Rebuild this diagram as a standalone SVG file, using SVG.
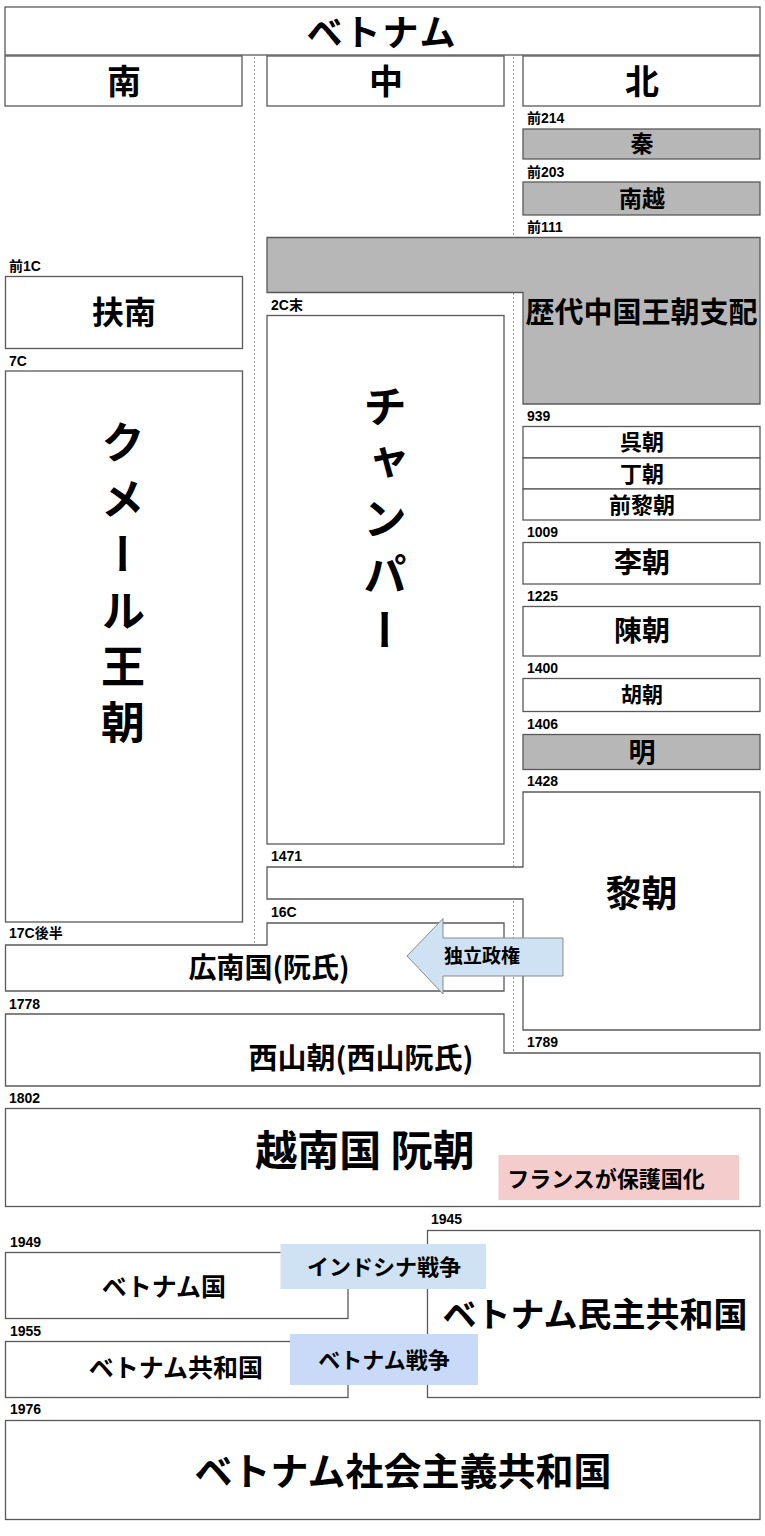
<svg xmlns="http://www.w3.org/2000/svg" width="765" height="1536" viewBox="0 0 765 1536">
<style>
.bx{fill:#ffffff;stroke:#595959;stroke-width:1.3}
.gr{fill:#b7b7b7;stroke:#595959;stroke-width:1.3}
.t{font-family:"Noto Sans CJK JP","Noto Sans CJK SC",sans-serif;font-weight:bold;fill:#000;text-anchor:middle;dominant-baseline:central}
.lb{font-family:"Liberation Sans","Noto Sans CJK JP",sans-serif;font-weight:bold;font-size:14px;fill:#000}
.vt{writing-mode:vertical-rl;font-family:"Noto Sans CJK JP",sans-serif;font-weight:bold;font-size:44px;fill:#000;text-anchor:middle;letter-spacing:12px}
.dv{stroke:#9a9a9a;stroke-width:1;stroke-dasharray:2 2;fill:none}
</style>
<rect width="765" height="1536" fill="#ffffff"/>
<g id="dividers">
<line class="dv" x1="254.5" y1="57" x2="254.5" y2="943"/>
<line class="dv" x1="513.5" y1="57" x2="513.5" y2="1052"/>
</g>
<g id="title"><rect class="bx" x="5" y="7" width="755" height="48"/><text class="t" x="382" y="29.5" font-size="36" letter-spacing="2">ベトナム</text></g>
<g id="col-south"><rect class="bx" x="5" y="56" width="237" height="50"/><text class="t" x="124" y="79" font-size="34">南</text></g>
<g id="col-center"><rect class="bx" x="267" y="56" width="237" height="50"/><text class="t" x="386" y="79" font-size="34">中</text></g>
<g id="col-north"><rect class="bx" x="523" y="56" width="237" height="50"/><text class="t" x="642" y="79" font-size="34">北</text></g>

<g id="qin"><text class="lb" x="527" y="123">前214</text><rect class="gr" x="523" y="129" width="237" height="30"/><text class="t" x="642" y="142" font-size="23">秦</text></g>
<g id="nanyue"><text class="lb" x="527" y="177">前203</text><rect class="gr" x="523" y="182" width="237" height="33"/><text class="t" x="642" y="196.5" font-size="23">南越</text></g>
<g id="chinese-rule"><text class="lb" x="527" y="232">前111</text><path class="gr" d="M267,237.5 H760 V404 H523 V292.5 H267 Z"/><text class="t" x="641.5" y="310" font-size="29">歴代中国王朝支配</text></g>

<g id="funan"><text class="lb" x="9" y="271">前1C</text><rect class="bx" x="5.5" y="276.5" width="237" height="72"/><text class="t" x="124" y="310" font-size="32">扶南</text></g>
<g id="khmer"><text class="lb" x="9" y="366">7C</text><rect class="bx" x="5.5" y="371" width="237" height="551"/><text class="vt" x="123" y="588">クメール王朝</text></g>
<g id="champa"><text class="lb" x="271" y="310">2C末</text><rect class="bx" x="267" y="315.5" width="237" height="528.5"/><text class="vt" x="385" y="524">チャンパー</text></g>

<g id="ngo"><text class="lb" x="527" y="421">939</text><rect class="bx" x="523" y="426.5" width="237" height="31.5"/><text class="t" x="642" y="440" font-size="22">呉朝</text></g>
<g id="dinh"><rect class="bx" x="523" y="458" width="237" height="31"/><text class="t" x="642" y="471.5" font-size="22">丁朝</text></g>
<g id="early-le"><rect class="bx" x="523" y="489" width="237" height="31"/><text class="t" x="642" y="502.5" font-size="22">前黎朝</text></g>
<g id="ly"><text class="lb" x="527" y="537">1009</text><rect class="bx" x="523" y="542.5" width="237" height="41.5"/><text class="t" x="642" y="561" font-size="28">李朝</text></g>
<g id="tran"><text class="lb" x="527" y="601">1225</text><rect class="bx" x="523" y="606.5" width="237" height="49.5"/><text class="t" x="642" y="629" font-size="28">陳朝</text></g>
<g id="ho"><text class="lb" x="527" y="673">1400</text><rect class="bx" x="523" y="678.5" width="237" height="33"/><text class="t" x="642" y="693" font-size="21">胡朝</text></g>
<g id="ming"><text class="lb" x="527" y="728.5">1406</text><rect class="gr" x="523" y="734.5" width="237" height="35"/><text class="t" x="642" y="750" font-size="27">明</text></g>
<g id="later-le"><text class="lb" x="527" y="786">1428</text><text class="lb" x="271" y="861">1471</text><path class="bx" d="M523,792 H760 V1030 H523 V899 H267 V867 H523 Z"/><text class="t" x="641.5" y="891" font-size="36">黎朝</text><text class="lb" x="527" y="1047">1789</text></g>

<g id="quang-nam"><text class="lb" x="271" y="917">16C</text><text class="lb" x="9" y="938">17C後半</text><path class="bx" d="M5.5,945 H267 V923 H504 V991 H5.5 Z"/><text class="t" x="269" y="966" font-size="28">広南国(阮氏)</text></g>
<g id="connectors"><g id="independence"><path d="M407,956 L443,918.5 V938 H563 V976 H443 V994 Z" fill="#cfe2f3" stroke="#8a8a8a" stroke-width="1"/><text class="t" x="482" y="954.5" font-size="19">独立政権</text></g></g>

<g id="tay-son"><text class="lb" x="9" y="1008.5">1778</text><path class="bx" d="M5.5,1014 H504 V1053 H760 V1086 H5.5 Z"/><text class="t" x="361" y="1056" font-size="29">西山朝(西山阮氏)</text></g>
<g id="nguyen"><text class="lb" x="9" y="1103">1802</text><rect class="bx" x="5.5" y="1108.5" width="754.5" height="98"/><text class="t" x="365" y="1147" font-size="42">越南国 阮朝</text></g>
<g id="french"><rect x="498.5" y="1155" width="240.5" height="45" fill="#f4cccc"/><text class="t" x="606" y="1176.5" font-size="22">フランスが保護国化</text></g>

<g id="state-of-vietnam"><text class="lb" x="10" y="1247">1949</text><rect class="bx" x="5.5" y="1252.5" width="342.5" height="66"/><text class="t" x="164" y="1285" font-size="25">ベトナム国</text></g>
<g id="drv"><text class="lb" x="431" y="1223.5">1945</text><rect class="bx" x="427.5" y="1230.5" width="332.5" height="167"/><text class="t" x="595" y="1312" font-size="34">ベトナム民主共和国</text></g>
<g id="rvn"><text class="lb" x="10" y="1335.5">1955</text><rect class="bx" x="5.5" y="1341.5" width="342.5" height="56"/><text class="t" x="176" y="1366" font-size="25">ベトナム共和国</text></g>
<g id="indochina-war"><rect x="280.5" y="1244" width="205.5" height="45" fill="#cfe2f3"/><text class="t" x="384" y="1265" font-size="22">インドシナ戦争</text></g>
<g id="vietnam-war"><rect x="290" y="1334" width="188" height="51" fill="#c9daf8"/><text class="t" x="384" y="1358" font-size="22">ベトナム戦争</text></g>
<g id="srv"><text class="lb" x="10" y="1413.5">1976</text><rect class="bx" x="5.5" y="1420.5" width="754.5" height="99"/><text class="t" x="403" y="1468" font-size="38">ベトナム社会主義共和国</text></g>
</svg>
